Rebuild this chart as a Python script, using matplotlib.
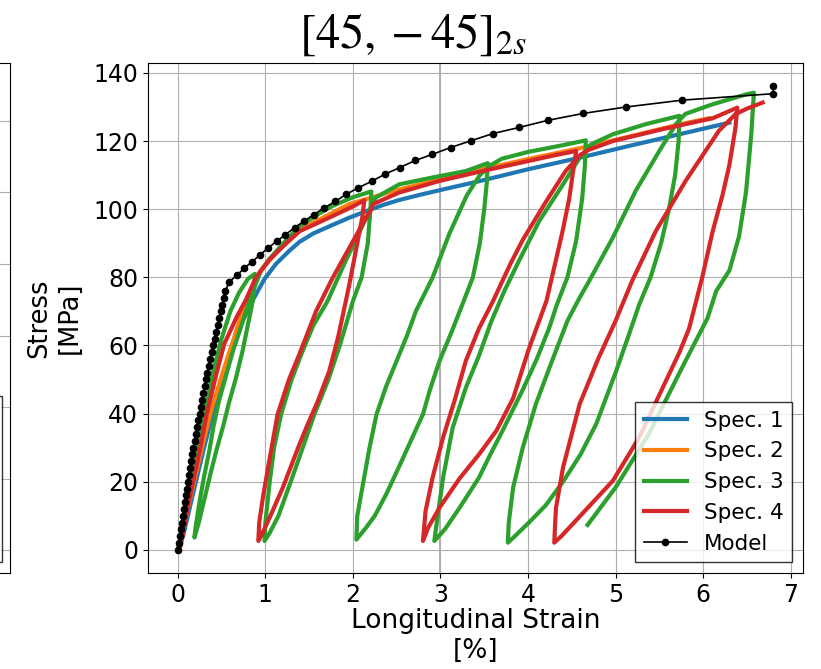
import matplotlib
matplotlib.use("Agg")
import matplotlib.pyplot as plt
from matplotlib.patches import Rectangle

# ---- data (strain in %, stress in MPa) ----

model_strain = [0.0, 0.010, 0.021, 0.032, 0.043, 0.054, 0.066, 0.077, 0.089, 0.101,
                0.114, 0.126, 0.139, 0.152, 0.165, 0.178, 0.192, 0.206, 0.220, 0.234,
                0.248, 0.263, 0.277, 0.292, 0.308, 0.323, 0.339, 0.355, 0.371, 0.387,
                0.403, 0.420, 0.437, 0.454, 0.471, 0.489, 0.506, 0.524, 0.542,
                0.590, 0.674, 0.761, 0.849, 0.940, 1.030, 1.130, 1.229, 1.336, 1.443,
                1.553, 1.675, 1.800, 1.926, 2.063, 2.215, 2.368, 2.534, 2.713, 2.908,
                3.117, 3.349, 3.600, 3.900, 4.230, 4.630, 5.120, 5.760, 6.800, 6.800]
model_stress = [0, 2, 4, 6, 8, 10, 12, 14, 16, 18,
                20, 22, 24, 26, 28, 30, 32, 34, 36, 38,
                40, 42, 44, 46, 48, 50, 52, 54, 56, 58,
                60, 62, 64, 66, 68, 70, 72, 74, 76,
                78.7, 80.6, 82.7, 84.6, 86.6, 88.6, 90.6, 92.5, 94.6, 96.5,
                98.4, 100.4, 102.3, 104.4, 106.3, 108.2, 110.3, 112.2, 114.3, 116.1,
                118.1, 120.1, 122.2, 124.0, 126.1, 128.1, 130.0, 132.0, 133.9, 136.1]

spec1 = [(0, 0), (0.06, 4), (0.17, 16), (0.3, 30), (0.42, 42), (0.55, 54), (0.7, 65),
         (0.85, 73), (0.99, 79.5), (1.12, 83.9), (1.275, 87.8), (1.39, 90.4), (1.55, 92.9),
         (1.77, 95.4), (1.95, 97.4), (2.15, 99.4), (2.34, 101.2), (2.53, 102.7), (2.78, 104.3),
         (3.03, 105.8), (3.44, 108.2), (4.015, 111.8), (4.59, 115.1), (5.16, 118.6),
         (5.73, 122.0), (6.30, 125.4)]

spec2 = [(0, 0), (0.057, 5.6), (0.17, 18.3), (0.285, 31), (0.38, 40.8), (0.495, 50.6),
         (0.63, 61.3), (0.74, 70.1), (0.93, 81.4), (1.2, 89.5), (1.39, 94), (1.96, 101.5),
         (2.5, 105.6), (3.0, 108.8), (3.5, 111.9), (4.0, 114.7), (4.63, 118.1),
         (5.2, 121.6), (5.73, 124.9), (6.07, 126.7)]

spec3 = [
    # first loading
    (0, 0), (0.05, 6), (0.1, 13), (0.2, 27), (0.3, 40), (0.4, 52), (0.5, 62), (0.6, 70),
    (0.7, 75.5), (0.8, 79.5), (0.88, 81),
    # unload / reload 1
    (0.87, 77), (0.856, 73), (0.80, 66), (0.74, 58.4), (0.66, 50), (0.59, 43.7),
    (0.52, 36.5), (0.44, 29.1), (0.37, 22), (0.30, 14.4), (0.24, 8), (0.20, 4.5), (0.19, 3.6),
    (0.20, 6), (0.25, 14.4), (0.30, 21.5), (0.36, 29.1), (0.41, 36.5), (0.47, 43.7),
    (0.55, 51), (0.63, 58.4), (0.71, 64.5), (0.78, 70.1), (0.86, 76), (0.95, 82),
    (1.05, 85.5), (1.2, 89.8), (1.39, 95), (1.6, 98.5), (1.77, 101), (2.0, 103.5), (2.21, 105.2),
    # unload / reload 2
    (2.20, 100), (2.17, 90), (2.10, 80), (2.0, 73), (1.92, 66), (1.85, 60), (1.72, 50),
    (1.56, 39.8), (1.40, 28), (1.29, 20), (1.15, 10), (1.05, 5), (0.99, 2.6),
    (1.0, 8), (1.05, 20), (1.10, 30), (1.18, 39.8), (1.30, 50), (1.42, 58), (1.55, 66),
    (1.71, 73), (1.92, 85), (2.07, 93), (2.18, 99), (2.26, 103.4),
    (2.53, 107.3), (2.91, 109.3), (3.29, 111.2), (3.54, 113.5),
    # unload / reload 3
    (3.53, 108), (3.50, 100), (3.45, 90), (3.37, 80), (3.25, 72), (3.12, 63.5), (2.99, 55.5),
    (2.88, 47), (2.80, 39.8), (2.68, 33), (2.52, 24), (2.38, 16.3), (2.25, 10), (2.15, 6.5),
    (2.04, 3),
    (2.05, 10), (2.12, 20), (2.19, 30), (2.27, 39.8), (2.38, 48), (2.50, 55.5), (2.62, 63),
    (2.72, 70.1), (2.91, 79.9), (3.10, 92.7), (3.30, 104), (3.45, 110), (3.58, 113),
    (3.7, 114.8), (4.0, 116.8), (4.4, 118.8), (4.66, 120.2),
    # unload / reload 4
    (4.65, 113), (4.62, 103.4), (4.55, 90.7), (4.45, 80), (4.33, 72), (4.24, 65), (4.10, 56),
    (3.94, 47), (3.71, 35), (3.56, 27.5), (3.44, 21.2), (3.22, 12.4), (3.05, 6), (2.93, 2.6),
    (2.95, 6.5), (3.03, 21.2), (3.14, 35.9), (3.29, 47.6), (3.44, 57), (3.58, 67), (3.73, 76),
    (3.90, 85), (4.13, 96.6), (4.40, 107.3), (4.59, 115.1), (4.72, 119),
    (4.97, 122), (5.35, 125), (5.73, 127.4),
    # unload / reload 5
    (5.72, 120), (5.68, 110), (5.61, 100), (5.52, 90), (5.40, 80), (5.27, 72), (5.15, 63),
    (5.0, 52), (4.78, 37), (4.60, 28), (4.40, 20), (4.20, 13), (4.01, 8), (3.85, 4), (3.77, 2.1),
    (3.78, 8), (3.83, 18.3), (3.94, 30), (4.09, 42.8), (4.26, 54.5), (4.45, 67.2), (4.57, 73.1),
    (4.70, 79), (4.97, 91.7), (5.23, 105.4), (5.50, 117.1), (5.69, 125), (5.76, 127),
    (5.80, 128), (6.11, 130.8), (6.49, 133.7), (6.58, 134.2),
    # final unload
    (6.57, 130), (6.55, 122), (6.49, 105), (6.41, 92), (6.30, 82), (6.15, 76), (6.05, 68),
    (5.76, 53.5), (5.38, 34), (5.0, 18.3), (4.68, 7.3)]

spec4 = [
    # first loading
    (0, 0), (0.03, 1), (0.13, 14.4), (0.25, 29), (0.33, 39.8), (0.44, 51.6), (0.53, 60.4),
    (0.67, 68.2), (0.78, 73.5), (0.89, 79.9), (1.05, 85.3), (1.24, 90), (1.39, 93.5),
    (1.77, 98), (2.0, 100.8), (2.13, 102.6),
    # unload / reload 1
    (2.11, 98), (2.07, 92.7), (2.02, 86), (1.96, 78), (1.92, 73.1), (1.83, 62.3), (1.73, 52.5),
    (1.60, 43.7), (1.47, 36), (1.39, 31), (1.20, 18.3), (1.05, 9.5), (0.96, 4.5), (0.92, 2.6),
    (0.93, 8), (0.97, 15), (1.03, 24), (1.14, 39.8), (1.27, 50), (1.39, 57.5), (1.58, 70.1),
    (1.77, 79.9), (1.96, 88.7), (2.11, 95.6), (2.21, 100),
    (2.23, 101.5), (2.53, 104.9), (2.99, 108.3), (3.48, 111.2), (4.015, 114.2), (4.30, 115.8),
    (4.55, 117.1),
    # unload / reload 2
    (4.52, 112), (4.47, 103), (4.39, 93), (4.30, 83), (4.21, 73), (4.11, 66), (4.01, 59),
    (3.83, 44.5), (3.64, 35), (3.44, 28), (3.22, 21), (2.99, 12.4), (2.86, 6.5), (2.80, 2.6),
    (2.83, 11.4), (2.91, 21.2), (3.03, 33), (3.16, 43.7), (3.29, 55.5), (3.44, 65), (3.60, 73),
    (3.80, 84), (3.94, 91), (4.21, 102.4), (4.43, 111.2), (4.60, 116), (4.70, 117.5),
    (4.97, 120), (5.54, 123.5), (6.11, 126.7), (6.39, 129.8),
    # unload / reload 3
    (6.37, 124), (6.30, 113), (6.22, 104), (6.11, 93.6), (5.99, 80), (5.92, 73), (5.84, 65),
    (5.73, 58), (5.50, 45.5), (5.27, 33), (4.97, 20.3), (4.58, 9.5), (4.38, 4), (4.30, 2.1),
    (4.31, 8), (4.32, 12.4), (4.40, 24.2), (4.59, 42.8), (4.80, 56), (5.0, 67.2), (5.19, 79),
    (5.46, 93.6), (5.80, 108.3), (6.18, 123), (6.37, 127.9), (6.50, 129.5), (6.68, 131.3)]

specs = [("Spec. 1", spec1, "tab:blue"),
         ("Spec. 2", spec2, "tab:orange"),
         ("Spec. 3", spec3, "tab:green"),
         ("Spec. 4", spec4, "tab:red")]

plt.rcParams["mathtext.fontset"] = "stix"

fig = plt.figure(figsize=(8.21, 6.69), dpi=100)

# edge of the neighbouring panel (cropped in the reference)
ax0 = fig.add_axes([-0.6, 0.1435, 0.6122, 0.7623])
ax0.set_ylim(-6.4, 136.2)
ax0.set_yticks([0, 20, 40, 60, 80, 100, 120])
ax0.set_xticks([])
ax0.tick_params(left=False, labelleft=False)
ax0.grid(True)
fig.add_artist(Rectangle((-0.3, 1 - 562 / 669), 0.3 + 1.5 / 821, (562 - 396) / 669,
                         transform=fig.transFigure, facecolor="white", alpha=0.8,
                         edgecolor="black", lw=1, zorder=5))

ax = fig.add_axes([0.1803, 0.1435, 0.7977, 0.7623])

for label, pts, color in specs:
    xs = [p[0] for p in pts]
    ys = [p[1] for p in pts]
    ax.plot(xs, ys, color=color, lw=3, label=label)

ax.plot(model_strain, model_stress, color="black", lw=1.2, marker="o",
        markersize=4.5, label="Model")

ax.set_xticks(range(0, 8))
ax.set_yticks(range(0, 141, 20))
ax.tick_params(labelsize=17)
ax.set_xlabel("Longitudinal Strain\n[%]", fontsize=19, labelpad=1)
ax.set_ylabel("Stress\n[MPa]", fontsize=18.5, labelpad=8)
ax.grid(True)
# the 3 % grid line shows darker in the reference
ax.axvline(3, color="#999999", lw=1.1, zorder=0.9)
ax.legend(loc="lower right", fontsize=15.5, edgecolor="black", fancybox=False)

fig.text(0.503, 0.928, r"$[45, -45]_{2s}$", ha="center", va="baseline", fontsize=35)

fig.savefig("out.png", dpi=100)
